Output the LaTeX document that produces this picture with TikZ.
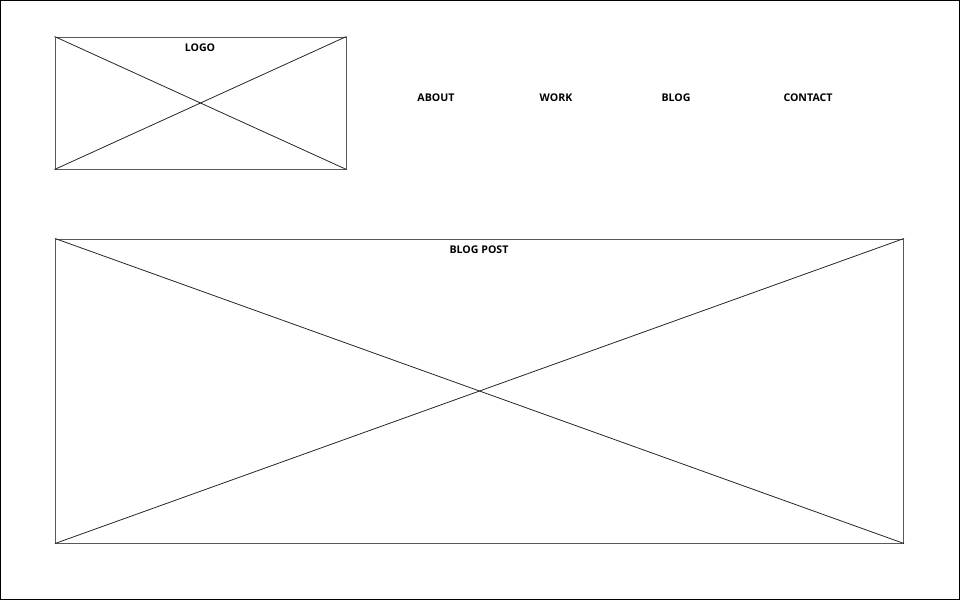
\documentclass[tikz,border=0pt]{standalone}
\usepackage{fontspec}
\setmainfont{Open Sans}
\begin{document}
\begin{tikzpicture}[x=1pt,y=-1pt,
  frame/.style={draw=black,line width=1pt},
  wbox/.style={draw=black!65,line width=1pt,inner sep=0pt,minimum width=#1},
  cross/.style={draw=black!85,line width=0.8pt},
  lbl/.style={font=\fontsize{10.6}{13}\selectfont\bfseries,text=black,inner sep=0pt}]
\useasboundingbox (0,0) rectangle (960,600);
\draw[frame] (0.5,0.5) rectangle (959.5,599.5);
% logo box
\node[wbox=291pt,minimum height=132pt] (logo) at (200.5,103) {};
\draw[cross] (logo.north west) -- (logo.south east);
\draw[cross] (logo.south west) -- (logo.north east);
\node[lbl] (logot) at (200,48) {LOGO};
% nav
\node[lbl] (about) at (436,98) {ABOUT};
\node[lbl] (work) at (556,98) {WORK};
\node[lbl] (blog) at (676,98) {BLOG};
\node[lbl] (contact) at (808,98) {CONTACT};
% blog post
\node[wbox=848pt,minimum height=304pt] (post) at (479.5,391) {};
\draw[cross] (post.north west) -- (post.south east);
\draw[cross] (post.south west) -- (post.north east);
\node[lbl] (postt) at (479,250) {BLOG POST};
\end{tikzpicture}
\end{document}
